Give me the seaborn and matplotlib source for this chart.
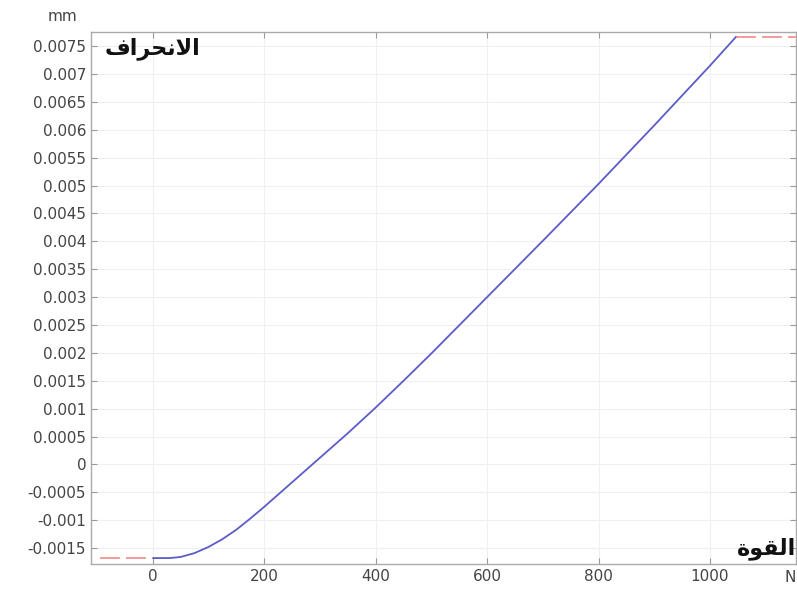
import numpy as np
import pandas as pd
import matplotlib
matplotlib.use("Agg")
import matplotlib.pyplot as plt
import seaborn as sns

# Force (N) vs deflection (mm)
force = [0, 30, 50, 75, 100, 125, 150, 175, 200, 225, 250, 300, 350, 400,
         450, 500, 600, 700, 800, 900, 1000, 1047]
deflection = [-0.00168, -0.00168, -0.00166, -0.00159, -0.00148, -0.00134, -0.00117,
              -0.00097, -0.00076, -0.00054, -0.00032, 0.00012, 0.00056, 0.00102,
              0.00150, 0.00199, 0.00300, 0.00401, 0.00503, 0.00608, 0.00715, 0.00767]

# constant extrapolation outside the solved range (red dashed)
extra_left_x = [-95, 0]
extra_left_y = [-0.00168, -0.00168]
extra_right_x = [1047, 1160]
extra_right_y = [0.00767, 0.00767]

x_ticks = [0, 200, 400, 600, 800, 1000]
y_ticks = [-0.0015, -0.001, -0.0005, 0, 0.0005, 0.001, 0.0015, 0.002, 0.0025, 0.003,
           0.0035, 0.004, 0.0045, 0.005, 0.0055, 0.006, 0.0065, 0.007, 0.0075]
y_tick_labels = ['-0.0015', '-0.001', '-0.0005', '0', '0.0005', '0.001', '0.0015', '0.002',
                 '0.0025', '0.003', '0.0035', '0.004', '0.0045', '0.005', '0.0055', '0.006',
                 '0.0065', '0.007', '0.0075']

# Arabic labels (pre-shaped presentation forms, visual order, since matplotlib has no shaping)
label_y = '\uFED1\uFE8D\uFEAE\uFEA4\uFEE7\uFEFB\uFE8D'   # الانحراف
label_x = '\uFE93\uFEEE\uFED8\uFEDF\uFE8D'               # القوة

sns.set_style("white")
plt.rcParams['font.family'] = ['DejaVu Sans']
plt.rcParams['axes.unicode_minus'] = False

fig = plt.figure(figsize=(7.97, 5.90), dpi=100)
ax = fig.add_axes([0.1142, 0.044, 0.885, 0.902])

curve = pd.DataFrame({'Force': force, 'Deflection': deflection})
sns.lineplot(data=curve, x='Force', y='Deflection', color='#5c5cc8', linewidth=1.3, ax=ax)
ax.plot(extra_left_x, extra_left_y, color='#f08080', linewidth=1.1, dashes=(13, 4))
ax.plot(extra_right_x, extra_right_y, color='#f08080', linewidth=1.1, dashes=(13, 4))

ax.set_xlim(-111, 1155)
ax.set_ylim(-0.001787, 0.007756)
ax.set_xticks(x_ticks)
ax.set_xticklabels([str(t) for t in x_ticks])
ax.set_yticks(y_ticks)
ax.set_yticklabels(y_tick_labels)
ax.set_xlabel('')
ax.set_ylabel('')

ax.grid(True, color='#efefef', linewidth=0.8)
ax.tick_params(direction='in', length=4, width=0.8, color='#999999',
               labelcolor='#444444', labelsize=11, top=True, right=True,
               left=True, bottom=True)
for s in ax.spines.values():
    s.set_color('#aaaaaa')
    s.set_linewidth(1.0)

ax.text(0.02, 0.99, label_y, transform=ax.transAxes, ha='left', va='top',
        fontsize=16, fontweight='bold', color='#111111')
ax.text(0.999, 0.008, label_x, transform=ax.transAxes, ha='right', va='bottom',
        fontsize=16, fontweight='bold', color='#111111')

fig.text(0.078, 0.972, 'mm', ha='center', va='center', fontsize=11, color='#444444')
fig.text(0.991, 0.021, 'N', ha='center', va='center', fontsize=11, color='#444444')

fig.savefig('out.png', dpi=100)
